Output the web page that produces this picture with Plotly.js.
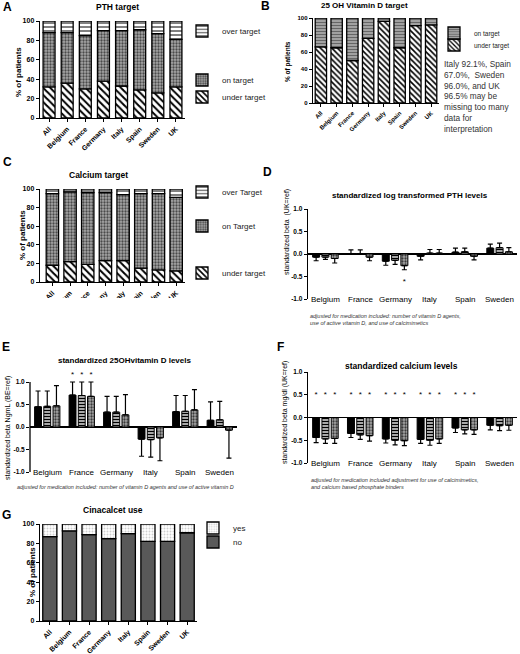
<!DOCTYPE html>
<html><head><meta charset="utf-8">
<script src="https://cdn.plot.ly/plotly-3.0.1.min.js"></script>
<style>html,body{margin:0;padding:0;background:#fff}#chart{width:520px;height:654px}</style>
</head><body><div id="chart"></div>
<script>
// ---------- data ----------
const countries = ['All','Belgium','France','Germany','Italy','Spain','Sweden','UK'];
const pthUnder = [32,36,30,38,33,29,26,32];
const pthOn    = [56,52,55,52,57,62,61,49];
const pthOver  = [12,12,15,10,10,9,13,19];
const vitdUnder = [66,65,50,76,96,65,91,92];
const vitdOn    = [34,35,50,24,4,35,9,8];
const caUnder = [18,22,19,23,23,15,13,12];
const caOn    = [77,75,77,73,71,80,82,79];
const caOver  = [5,3,4,4,6,5,5,9];
const cinaNo  = [87,93,89,85,90,82,82,91];
const cinaYes = [13,7,11,15,10,18,18,9];
const pctTicks = [0,20,40,60,80,100];

const regions = ['Belgium','France','Germany','Italy','Spain','Sweden'];
const pthBeta1 = [-0.07, 0.01, -0.16, -0.05, 0.04, 0.13];
const pthBeta2 = [-0.07, 0.01, -0.14, 0.02, 0.05, 0.14];
const pthBeta3 = [-0.10, -0.07, -0.26, 0.02, -0.05, 0.05];
const pthErr1 = [0.08, 0.08, 0.09, 0.08, 0.09, 0.09];
const pthErr2 = [0.05, 0.08, 0.09, 0.08, 0.08, 0.10];
const pthErr3 = [0.10, 0.08, 0.09, 0.08, 0.08, 0.09];
const pthStar1 = [null,null,null,null,null,null];
const pthStar2 = [null,null,null,null,null,null];
const pthStar3 = [null,null,-0.62,null,null,null];

const vdBeta1 = [0.45, 0.71, 0.33, -0.27, 0.34, 0.15];
const vdBeta2 = [0.46, 0.70, 0.33, -0.28, 0.35, 0.16];
const vdBeta3 = [0.47, 0.68, 0.27, -0.24, 0.38, -0.07];
const vdErr1 = [0.35, 0.29, 0.35, 0.38, 0.36, 0.41];
const vdErr2 = [0.34, 0.30, 0.35, 0.39, 0.35, 0.41];
const vdErr3 = [0.45, 0.32, 0.45, 0.51, 0.45, 0.62];
const vdStar1 = [null,1.15,null,null,null,null];
const vdStar2 = [null,1.15,null,null,null,null];
const vdStar3 = [null,1.15,null,null,null,null];

const caBeta1 = [-0.44, -0.35, -0.47, -0.48, -0.23, -0.17];
const caBeta2 = [-0.47, -0.38, -0.50, -0.50, -0.27, -0.18];
const caBeta3 = [-0.46, -0.40, -0.51, -0.47, -0.27, -0.17];
const caErr1 = [0.11, 0.09, 0.09, 0.09, 0.10, 0.10];
const caErr2 = [0.10, 0.10, 0.10, 0.11, 0.09, 0.11];
const caErr3 = [0.11, 0.12, 0.11, 0.10, 0.10, 0.11];
const caStar1 = [0.5,0.5,0.5,0.5,0.5,null];
const caStar2 = [0.5,0.5,0.5,0.5,0.5,null];
const caStar3 = [0.5,0.5,0.5,0.5,0.5,null];

const betaTicks = [-1,-0.5,0,0.5,1];
const betaTickText = ['-1.0','-0.5','0.0','0.5','1.0'];

// ---------- helpers ----------
const W=520, H=654;
const px = v => v/W, py = v => 1 - v/H;
const FONT = 'Liberation Sans, Arial, sans-serif';
const add = (a,b) => a.map((v,i)=>v+b[i]);

const patUnder = {shape:'\\', fgcolor:'#000', bgcolor:'#fff', size:5, solidity:0.4};
const patOnDots = {shape:'.', fgcolor:'#4a4a4a', bgcolor:'#a8a8a8', size:3, solidity:0.45};
const patOver = {shape:'-', fgcolor:'#808080', bgcolor:'#fff', size:4, solidity:0.5};
const patOnStripe = {shape:'-', fgcolor:'#666', bgcolor:'#a8a8a8', size:3, solidity:0.4};
const patYes = {shape:'.', fgcolor:'#cfcfcf', bgcolor:'#fff', size:3, solidity:0.3};
const grpStyles = [
  {color:'#000'},
  {color:'#ddd', pattern:{shape:'-', fgcolor:'#000', bgcolor:'#e0e0e0', size:3, solidity:0.5}},
  {color:'#aaa', pattern:{shape:'.', fgcolor:'#3a3a3a', bgcolor:'#a8a8a8', size:3, solidity:0.45}}
];

function stackBar(xa, ya, name, vals, base, pattern, color, legend, width) {
  return {type:'bar', x:countries, y:vals, base:base, xaxis:xa, yaxis:ya, name:name,
    offsetgroup:xa+'stack', width:width,
    marker:{color:color, pattern:pattern, line:{color:'#000', width:1.3}},
    legend:legend, showlegend:true, hoverinfo:'skip'};
}
function groupBar(xa, ya, vals, errs, k) {
  const st = grpStyles[k];
  return {type:'bar', x:regions, y:vals, xaxis:xa, yaxis:ya, offsetgroup:'g'+k,
    marker:{color:st.color, pattern:st.pattern, line:{color:'#000', width:1}},
    error_y:{type:'data', symmetric:false,
      array: vals.map((v,i)=> v>=0 ? errs[i] : 0),
      arrayminus: vals.map((v,i)=> v<0 ? errs[i] : 0),
      color:'#000', thickness:1.2, width:2.5},
    showlegend:false, hoverinfo:'skip'};
}
function stars(xa, ya, vals, k) {
  return {type:'scatter', mode:'text', x:regions, y:vals, text:vals.map(v=>v==null?'':'*'),
    textposition:'middle center', textfont:{family:FONT, size:8, color:'#000'},
    xaxis:xa, yaxis:ya, offsetgroup:'g'+k, cliponaxis:false, showlegend:false, hoverinfo:'skip'};
}

const traces = [
  // A
  stackBar('x','y','under target', pthUnder, null, patUnder, '#fff', 'legend3', 0.66),
  stackBar('x','y','on target', pthOn, pthUnder, patOnDots, '#a8a8a8', 'legend2', 0.66),
  stackBar('x','y','over target', pthOver, add(pthUnder,pthOn), patOver, '#fff', 'legend', 0.66),
  // B
  stackBar('x2','y2','under target', vitdUnder, null, Object.assign({}, patUnder, {size:4}), '#fff', 'legend5', 0.72),
  stackBar('x2','y2','on target', vitdOn, vitdUnder, patOnStripe, '#a8a8a8', 'legend4', 0.72),
  // C
  stackBar('x3','y3','under target', caUnder, null, patUnder, '#fff', 'legend8', 0.7),
  stackBar('x3','y3','on Target', caOn, caUnder, patOnDots, '#a8a8a8', 'legend7', 0.7),
  stackBar('x3','y3','over Target', caOver, add(caUnder,caOn), patOver, '#fff', 'legend6', 0.7),
  // G
  stackBar('x7','y7','no', cinaNo, null, null, '#595959', 'legend10', 0.72),
  stackBar('x7','y7','yes', cinaYes, cinaNo, patYes, '#fff', 'legend9', 0.72),
  // D
  groupBar('x4','y4', pthBeta1, pthErr1, 0),
  groupBar('x4','y4', pthBeta2, pthErr2, 1),
  groupBar('x4','y4', pthBeta3, pthErr3, 2),
  stars('x4','y4', pthStar1, 0), stars('x4','y4', pthStar2, 1), stars('x4','y4', pthStar3, 2),
  // E
  groupBar('x5','y5', vdBeta1, vdErr1, 0),
  groupBar('x5','y5', vdBeta2, vdErr2, 1),
  groupBar('x5','y5', vdBeta3, vdErr3, 2),
  stars('x5','y5', vdStar1, 0), stars('x5','y5', vdStar2, 1), stars('x5','y5', vdStar3, 2),
  // F
  groupBar('x6','y6', caBeta1, caErr1, 0),
  groupBar('x6','y6', caBeta2, caErr2, 1),
  groupBar('x6','y6', caBeta3, caErr3, 2),
  stars('x6','y6', caStar1, 0), stars('x6','y6', caStar2, 1), stars('x6','y6', caStar3, 2)
];

function stackX(l, r, anchor, size, range) {
  return {domain:[px(l), px(r)], anchor:anchor, type:'category', range:range||[-0.5,7.5],
    showline:true, linecolor:'#000', linewidth:1.3, ticks:'outside', ticklen:3, tickcolor:'#000', tickwidth:1,
    tickangle:-45, tickfont:{family:FONT, size:size, weight:'bold', color:'#000'},
    showgrid:false, zeroline:false, fixedrange:true};
}
function stackY(bottom, top, anchor, size) {
  return {domain:[py(bottom), py(top)], anchor:anchor, range:[0,100], tickvals:pctTicks,
    showline:true, linecolor:'#000', linewidth:1.3, ticks:'outside', ticklen:3, tickcolor:'#000', tickwidth:1,
    tickfont:{family:FONT, size:size, weight:'bold', color:'#000'},
    showgrid:false, zeroline:false, fixedrange:true};
}
function betaX(l, r, anchor) {
  return {domain:[px(l), px(r)], anchor:anchor, type:'category', range:[-0.5,5.5],
    showline:false, showticklabels:false, ticks:'', showgrid:false, zeroline:false, fixedrange:true};
}
function betaY(bottom, top, anchor, range, showline) {
  return {domain:[py(bottom), py(top)], anchor:anchor, range:range||[-1,1], tickvals:betaTicks, ticktext:betaTickText,
    showline:showline!==false, linecolor:'#000', linewidth:1.3, ticks:'outside', ticklen:3, tickcolor:'#000', tickwidth:1,
    tickfont:{family:FONT, size:6.5, weight:'bold', color:'#000'},
    zeroline:true, zerolinecolor:'#000', zerolinewidth:1.3, showgrid:false, fixedrange:true};
}
function leg(xpx, ypx, size) {
  return {x:px(xpx), y:py(ypx), xanchor:'left', yanchor:'middle', bgcolor:'rgba(0,0,0,0)',
    font:{family:FONT, size:size||8, color:'#222'}, itemwidth:30, borderwidth:0};
}
function txt(x, y, text, size, opts) {
  return Object.assign({xref:'paper', yref:'paper', x:px(x), y:py(y), text:text, showarrow:false,
    font:{family:FONT, size:size, color:'#000'}, xanchor:'center', yanchor:'middle'}, opts||{});
}
const bold = s => ({family:FONT, size:s, weight:'bold', color:'#000'});

const annotations = [
  // panel letters
  txt(7,7,'A',12,{font:bold(12)}),
  txt(265,6,'B',12,{font:bold(12)}),
  txt(7,162,'C',12,{font:bold(12)}),
  txt(267,172,'D',12,{font:bold(12)}),
  txt(6,347,'E',12,{font:bold(12)}),
  txt(280,347,'F',12,{font:bold(12)}),
  txt(6,515,'G',12,{font:bold(12)}),
  // titles
  txt(117,7,'PTH target',8.5,{font:bold(8.5)}),
  txt(364,6,'25 OH Vitamin D target',8,{font:bold(8)}),
  txt(98,175,'Calcium target',8.5,{font:bold(8.5)}),
  txt(410,195,'standardized log transformed PTH levels',8,{font:bold(8)}),
  txt(124,360,'standardized 25OHvitamin D levels',8,{font:bold(8)}),
  txt(401,366,'standardized calcium levels',8.5,{font:bold(8.5)}),
  txt(113,510,'Cinacalcet use',8.5,{font:bold(8.5)}),
  // y titles
  txt(18,72,'% of patients',8,{textangle:-90,font:bold(8)}),
  txt(288,62,'% of patients',6.5,{textangle:-90,font:bold(6.5)}),
  txt(22,235,'% of patients',8,{textangle:-90,font:bold(8)}),
  txt(32,572,'% of patients',8,{textangle:-90,font:bold(8)}),
  txt(287,232,'standardized beta  (UK=ref)',7,{textangle:-90}),
  txt(8,428,'standardized beta NgmL (BE=ref)',7,{textangle:-90}),
  txt(285,413,'standardized beta mg/dl (UK=ref)',7,{textangle:-90}),
  // B note
  txt(442,57,'Italy 92.1%, Spain<br>67.0%,  Sweden<br>96.0%, and UK<br>96.5% may be<br>missing too many<br>data for<br>interpretation',8.3,
    {xanchor:'left', yanchor:'top', align:'left', font:{family:FONT,size:8.3,color:'#333'}}),
  // footnotes
  txt(308,311,'adjusted for medication included: number of vitamin D agents,<br>use of active vitamin D, and use of calcimimetics',5.5,
    {xanchor:'left', yanchor:'top', align:'left', font:{family:FONT,size:5.5,style:'italic',color:'#333'}}),
  txt(15,487,'adjusted for medication included: number of vitamin D agents and use of active vitamin D',5.5,
    {xanchor:'left', font:{family:FONT,size:5.5,style:'italic',color:'#333'}}),
  txt(309,475,'adjusted for medication included adjustment for use of calcimimetics,<br>and calcium based phosphate binders',5.5,
    {xanchor:'left', yanchor:'top', align:'left', font:{family:FONT,size:5.5,style:'italic',color:'#333'}})
];
// category labels of the beta panels, placed at the -1.0 level like the original
[['x4','y4'],['x5','y5'],['x6','y6']].forEach(([xa,ya])=>{
  regions.forEach(r=>annotations.push({xref:xa, yref:ya, x:r, y:-1, text:r, showarrow:false,
    font:{family:FONT,size:8,color:'#000'}, xanchor:'center', yanchor:'middle'}));
});

const layout = {
  width:W, height:H, margin:{l:0,r:0,t:0,b:0}, paper_bgcolor:'#fff', plot_bgcolor:'rgba(0,0,0,0)',
  font:{family:FONT, color:'#000'},
  barmode:'group', bargap:0.2, bargroupgap:0.25, scattermode:'group', scattergap:0.2,
  showlegend:true,
  xaxis: stackX(40,185,'y',7),   yaxis: stackY(118,21,'x',7),
  xaxis2: stackX(313,439,'y2',6), yaxis2: stackY(103,18,'x2',6),
  xaxis3: stackX(40,185,'y3',7,[-0.7,7.5]), yaxis3: stackY(282,189,'x3',7),
  xaxis4: betaX(308,517,'y4'), yaxis4: betaY(299,209,'x4'),
  // E: range reaches above 1.0 so the significance stars over France stay visible; the axis line stops at 1.0
  xaxis5: betaX(30,237,'y5'),  yaxis5: betaY(472,373,'x5',[-1,1.2],false),
  xaxis6: betaX(308,517,'y6'), yaxis6: betaY(463,372,'x6'),
  xaxis7: stackX(40,197,'y7',7), yaxis7: stackY(621,524,'x7',7),
  legend: leg(182,31), legend2: leg(182,80), legend3: leg(182,97),
  legend4: leg(434,33,6.5), legend5: leg(434,45,6.5),
  legend6: leg(182,192), legend7: leg(182,226), legend8: leg(182,273),
  legend9: leg(193,528), legend10: leg(193,542),
  annotations: annotations,
  shapes: [
    {type:'rect', xref:'paper', yref:'paper', x0:px(25), x1:px(205), y0:py(325), y1:py(298),
     fillcolor:'#fff', line:{width:0}, layer:'above'},
    {type:'line', xref:'x5 domain', yref:'y5', x0:0, x1:0, y0:betaTicks[0], y1:betaTicks[betaTicks.length-1],
     line:{color:'#000', width:1.3}, layer:'above'}
  ]
};

Plotly.newPlot('chart', traces, layout, {displayModeBar:false, staticPlot:true});
</script>
</body></html>
